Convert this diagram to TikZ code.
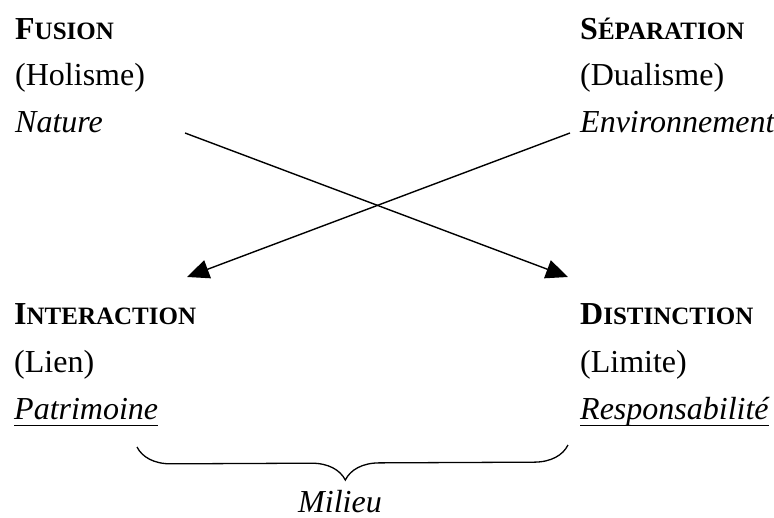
\documentclass[tikz,border=0pt]{standalone}
\usepackage{fontspec}
\setmainfont{Liberation Serif}
\usetikzlibrary{arrows.meta,decorations.pathreplacing}

\newcommand{\petitcap}[2]{{\bfseries\fontsize{32}{38}\selectfont #1\fontsize{25}{30}\selectfont #2}}

\begin{document}
\begin{tikzpicture}[x=1pt,y=-1pt,
		txt/.style={inner sep=0pt,anchor=base west,font=\fontsize{32}{38}\selectfont},
		fleche/.style={line width=1.4pt,-{Triangle[length=22pt,width=19pt]}},
		souligne/.style={line width=1.6pt}]
		\useasboundingbox (0,0) rectangle (774,518);
		\node (fusion) [txt] at (15,40) {\petitcap{F}{USION}};
		\node (holisme) [txt] at (15,86) {(Holisme)};
		\node (nature) [txt] at (15,133) {\itshape Nature};
		\node (separation) [txt] at (580,40) {\petitcap{S}{ÉPARATION}};
		\node (dualisme) [txt] at (580,86) {(Dualisme)};
		\node (environ) [txt] at (580,133) {\itshape Environnement};
		\node (interaction) [txt] at (14,325) {\petitcap{I}{NTERACTION}};
		\node (lien) [txt] at (14,373) {(Lien)};
		\node (patrimoine) [txt] at (14,420) {\itshape Patrimoine};
		\node (distinction) [txt] at (580,325) {\petitcap{D}{ISTINCTION}};
		\node (limite) [txt] at (580,373) {(Limite)};
		\node (respons) [txt] at (580,420) {\itshape Responsabilité};
		\node (milieu) [txt,anchor=base] at (340,512) {\itshape Milieu};
		\coordinate (nat-out) at (185,133);
		\coordinate (env-out) at (570,133);
		\coordinate (inter-in) at (187,277);
		\coordinate (dist-in) at (568,277);
		\coordinate (brace-g) at (137,447);
		\coordinate (brace-d) at (568,445);
		\draw [fleche] (nat-out) -- (dist-in);
		\draw [fleche] (env-out) -- (inter-in);
		\draw [souligne] ([yshift=-5.5pt]patrimoine.base west) -- ([yshift=-5.5pt]patrimoine.base east);
		\draw [souligne] ([yshift=-5.5pt]respons.base west) -- ([yshift=-5.5pt]respons.base east);
		\draw [line width=1.3pt,decorate,decoration={brace,mirror,amplitude=34pt,aspect=0.483}] (brace-g) -- (brace-d);
\end{tikzpicture}
\end{document}
